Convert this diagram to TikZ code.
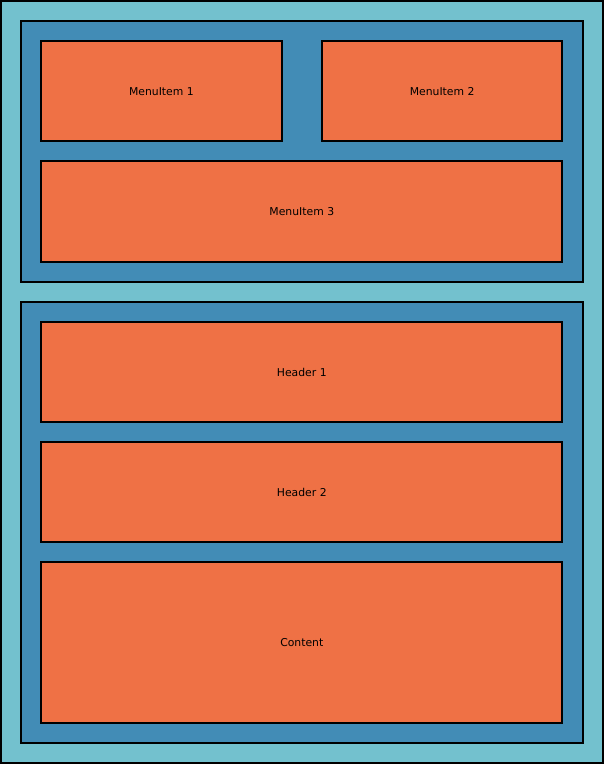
\documentclass[tikz,border=0pt]{standalone}
\usepackage{fontspec}
\setmainfont{DejaVu Sans}
\usepackage{tikz}
\definecolor{pagebg}{HTML}{73C1CE}
\definecolor{panelbg}{HTML}{428CB6}
\definecolor{itembg}{HTML}{EF7145}
\tikzstyle{pagebox} = [draw=black, fill=pagebg, line width=2pt,
    rectangle, inner sep=0pt, outer sep=0pt]
\tikzstyle{panelbox} = [draw=black, fill=panelbg, line width=2pt,
    rectangle, inner sep=0pt, outer sep=0pt, anchor=north west]
\tikzstyle{itembox} = [draw=black, fill=itembg, line width=2pt,
    rectangle, inner sep=0pt, outer sep=0pt, anchor=north west,
    font=\fontsize{10.8}{13}\selectfont]
\begin{document}
\begin{tikzpicture}[x=1pt, y=-1pt]
                \useasboundingbox (0,0) rectangle (602,762);
                \node [pagebox, anchor=north west, minimum width=600pt, minimum height=760pt] (page) at (1,1) {};
                % menu panel
                \node [panelbox, minimum width=560pt, minimum height=260pt] (menu) at (21,21) {};
                \node [itembox, minimum width=240pt, minimum height=100pt] (item1) at (41,41) {MenuItem 1};
                \node [itembox, minimum width=240pt, minimum height=100pt] (item2) at (321,41) {MenuItem 2};
                \node [itembox, minimum width=520pt, minimum height=100pt] (item3) at (41,161) {MenuItem 3};
                % main panel
                \node [panelbox, minimum width=560pt, minimum height=440pt] (main) at (21,301) {};
                \node [itembox, minimum width=520pt, minimum height=100pt] (header1) at (41,321) {Header 1};
                \node [itembox, minimum width=520pt, minimum height=100pt] (header2) at (41,441) {Header 2};
                \node [itembox, minimum width=520pt, minimum height=160pt] (content) at (41,561) {Content};
            \end{tikzpicture}
\end{document}
